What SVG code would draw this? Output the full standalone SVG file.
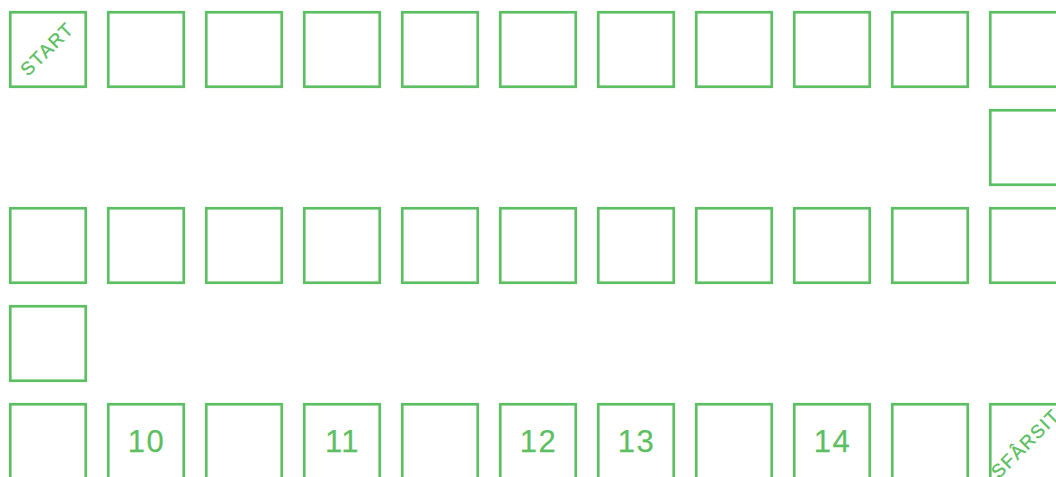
<svg xmlns="http://www.w3.org/2000/svg" width="1056" height="477" viewBox="0 0 1056 477">
<style>
.sq{fill:none;stroke:#5dbf63;stroke-width:2.7}
.num{font-family:"Liberation Sans",Arial,sans-serif;font-size:31px;fill:#5dbf63;stroke:#5dbf63;stroke-width:0.25;text-anchor:middle;letter-spacing:1.5px}
.lbl{font-family:"Liberation Sans",Arial,sans-serif;font-size:18.5px;fill:#5dbf63;stroke:#5dbf63;stroke-width:0.4;text-anchor:middle;letter-spacing:1.5px}
</style>
<rect width="1056" height="477" fill="#ffffff"/>
<defs><rect id="s" class="sq" width="75.5" height="74.5"/></defs>
<g id="row1">
<g id="c0"><use href="#s" x="10.25" y="12.25"/><text class="lbl" transform="translate(51.5,53.5) rotate(-45)">START</text></g>
<g id="c1"><use href="#s" x="108.25" y="12.25"/></g>
<g id="c2"><use href="#s" x="206.25" y="12.25"/></g>
<g id="c3"><use href="#s" x="304.25" y="12.25"/></g>
<g id="c4"><use href="#s" x="402.25" y="12.25"/></g>
<g id="c5"><use href="#s" x="500.25" y="12.25"/></g>
<g id="c6"><use href="#s" x="598.25" y="12.25"/></g>
<g id="c7"><use href="#s" x="696.25" y="12.25"/></g>
<g id="c8"><use href="#s" x="794.25" y="12.25"/></g>
<g id="c9"><use href="#s" x="892.25" y="12.25"/></g>
<g id="c10"><use href="#s" x="990.25" y="12.25"/></g>
</g>
<g id="row2">
<g id="c11"><use href="#s" x="990.25" y="110.25"/></g>
</g>
<g id="row3">
<g id="c12"><use href="#s" x="990.25" y="208.25"/></g>
<g id="c13"><use href="#s" x="892.25" y="208.25"/></g>
<g id="c14"><use href="#s" x="794.25" y="208.25"/></g>
<g id="c15"><use href="#s" x="696.25" y="208.25"/></g>
<g id="c16"><use href="#s" x="598.25" y="208.25"/></g>
<g id="c17"><use href="#s" x="500.25" y="208.25"/></g>
<g id="c18"><use href="#s" x="402.25" y="208.25"/></g>
<g id="c19"><use href="#s" x="304.25" y="208.25"/></g>
<g id="c20"><use href="#s" x="206.25" y="208.25"/></g>
<g id="c21"><use href="#s" x="108.25" y="208.25"/></g>
<g id="c22"><use href="#s" x="10.25" y="208.25"/></g>
</g>
<g id="row4">
<g id="c23"><use href="#s" x="10.25" y="306.25"/></g>
</g>
<g id="row5">
<g id="c24"><use href="#s" x="10.25" y="404.25"/></g>
<g id="c25"><use href="#s" x="108.25" y="404.25"/><text class="num" x="146.5" y="452">10</text></g>
<g id="c26"><use href="#s" x="206.25" y="404.25"/></g>
<g id="c27"><use href="#s" x="304.25" y="404.25"/><text class="num" x="342.5" y="452">11</text></g>
<g id="c28"><use href="#s" x="402.25" y="404.25"/></g>
<g id="c29"><use href="#s" x="500.25" y="404.25"/><text class="num" x="538.5" y="452">12</text></g>
<g id="c30"><use href="#s" x="598.25" y="404.25"/><text class="num" x="636.5" y="452">13</text></g>
<g id="c31"><use href="#s" x="696.25" y="404.25"/></g>
<g id="c32"><use href="#s" x="794.25" y="404.25"/><text class="num" x="832.5" y="452">14</text></g>
<g id="c33"><use href="#s" x="892.25" y="404.25"/></g>
<g id="c34"><use href="#s" x="990.25" y="404.25"/><text class="lbl" transform="translate(1030,448) rotate(-45)">SFÂRSIT</text></g>
</g>
<g id="connectors"/>
</svg>
